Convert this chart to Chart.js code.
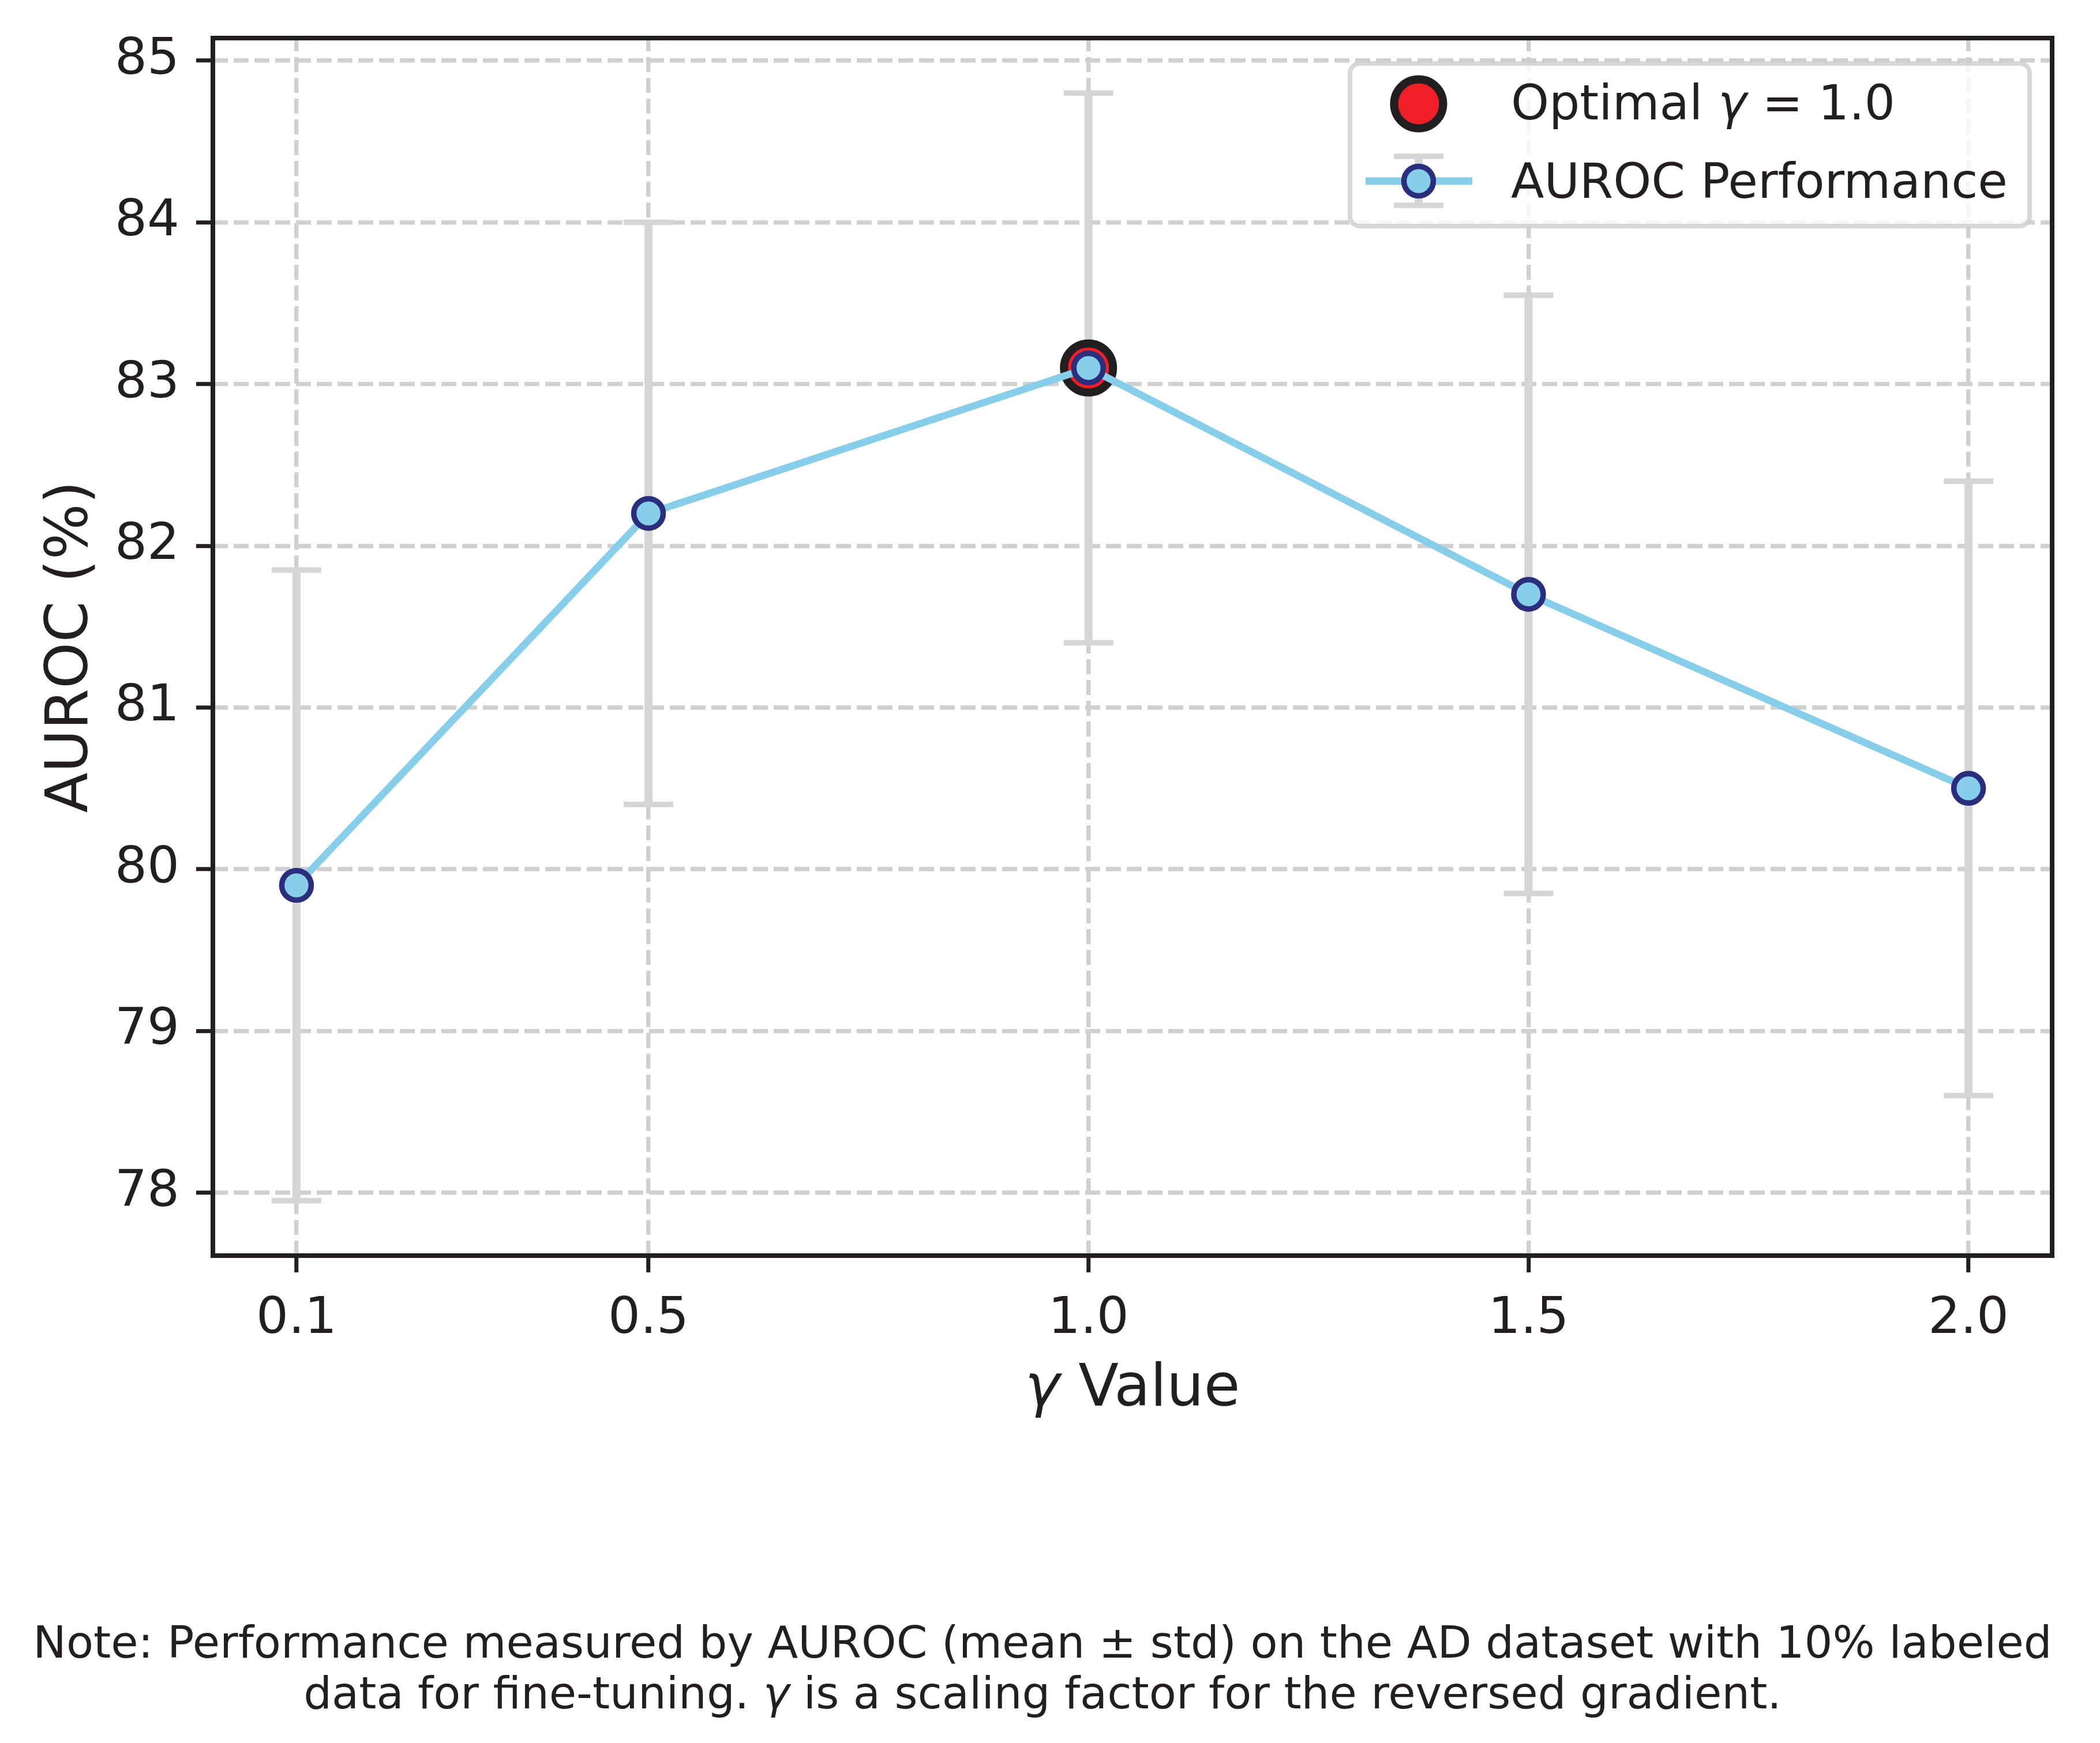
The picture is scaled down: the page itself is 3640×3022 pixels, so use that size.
<!DOCTYPE html>
<html>
<head>
<meta charset="utf-8">
<script src="https://cdn.jsdelivr.net/npm/chart.js@4.4.1/dist/chart.umd.min.js"></script>
<style>
  html, body { margin: 0; padding: 0; background: #fff; }
  #chart { display: block; }
</style>
</head>
<body>
<canvas id="chart" width="3640" height="3022"></canvas>
<script>
// values
const gammaValues = [0.1, 0.5, 1.0, 1.5, 2.0];
const aurocMean = [79.9, 82.2, 83.1, 81.7, 80.5];
const aurocStd = [1.95, 1.8, 1.7, 1.85, 1.9];
const optimalGamma = [1.0];
const optimalAuroc = [83.1];
const yTickValues = [78, 79, 80, 81, 82, 83, 84, 85];

// text pieces: [text, italic]
const legendOptimal = [["Optimal ", false], ["\u03b3", true], [" = 1.0", false]];
const legendAuroc = [["AUROC Performance", false]];
const xTitle = [["\u03b3", true], [" Value", false]];
const yTitle = "AUROC (%)";
const noteLine1 = [["Note: Performance measured by AUROC (mean \u00b1 std) on the AD dataset with 10% labeled", false]];
const noteLine2 = [["data for fine-tuning. ", false], ["\u03b3", true], [" is a scaling factor for the reversed gradient.", false]];

const INK = "#231f20";
const SKY = "#87ceeb";
const NAVY = "#2b2e7c";
const RED = "#ee1f26";
const ERR = "#d4d5d7";
const GRID = "#cfd0d2";
const FAMILY = "'DejaVu Sans', sans-serif";

function font(size, italic) {
  return (italic ? "oblique " : "") + size + "px " + FAMILY;
}

function richWidth(ctx, parts, size) {
  let w = 0;
  parts.forEach(([t, it]) => {
    ctx.font = font(size, it);
    w += ctx.measureText(t).width;
  });
  return w;
}

function drawRich(ctx, parts, x, y, size, align) {
  const w = richWidth(ctx, parts, size);
  let cx = align === "center" ? x - w / 2 : x;
  ctx.textAlign = "left";
  ctx.textBaseline = "alphabetic";
  parts.forEach(([t, it]) => {
    ctx.font = font(size, it);
    ctx.fillText(t, cx, y);
    cx += ctx.measureText(t).width;
  });
}

function marker(ctx, x, y, r, fill, edge, lw) {
  ctx.beginPath();
  ctx.arc(x, y, r, 0, Math.PI * 2);
  ctx.fillStyle = fill;
  ctx.fill();
  ctx.lineWidth = lw;
  ctx.strokeStyle = edge;
  ctx.stroke();
}

function errorBar(ctx, x, top, bot) {
  ctx.strokeStyle = ERR;
  ctx.lineWidth = 14;
  ctx.beginPath();
  ctx.moveTo(x, top);
  ctx.lineTo(x, bot);
  ctx.stroke();
  ctx.lineWidth = 9.5;
  ctx.beginPath();
  ctx.moveTo(x - 43, top);
  ctx.lineTo(x + 43, top);
  ctx.moveTo(x - 43, bot);
  ctx.lineTo(x + 43, bot);
  ctx.stroke();
}

const errorBars = {
  id: "errorBars",
  beforeDatasetsDraw(chart) {
    const { ctx, scales: { x, y } } = chart;
    ctx.save();
    gammaValues.forEach((g, i) => {
      errorBar(ctx, x.getPixelForValue(g),
        y.getPixelForValue(aurocMean[i] + aurocStd[i]),
        y.getPixelForValue(aurocMean[i] - aurocStd[i]));
    });
    ctx.restore();
  }
};

const decorations = {
  id: "decorations",
  afterDraw(chart) {
    const { ctx, chartArea: a } = chart;
    ctx.save();

    // axes frame
    ctx.strokeStyle = INK;
    ctx.lineWidth = 8;
    ctx.strokeRect(a.left, a.top, a.right - a.left, a.bottom - a.top);

    // legend
    const fs = 84;
    const textW = Math.max(richWidth(ctx, legendOptimal, fs), richWidth(ctx, legendAuroc, fs));
    const R = 3518, T = 110, B = 392;
    const L = R - 38 - textW - 279;
    ctx.beginPath();
    ctx.roundRect(L, T, R - L, B - T, 17);
    ctx.fillStyle = "rgba(255,255,255,0.8)";
    ctx.fill();
    ctx.lineWidth = 8;
    ctx.strokeStyle = "rgba(204,205,208,0.8)";
    ctx.stroke();

    const hx = L + 119;
    marker(ctx, hx, 180, 42.5, RED, INK, 14);
    errorBar(ctx, hx, 271, 356);
    ctx.strokeStyle = SKY;
    ctx.lineWidth = 13;
    ctx.beginPath();
    ctx.moveTo(L + 27, 314);
    ctx.lineTo(L + 212, 314);
    ctx.stroke();
    marker(ctx, hx, 314, 25.5, SKY, NAVY, 9.5);

    ctx.fillStyle = INK;
    drawRich(ctx, legendOptimal, L + 279, 207, fs, "left");
    drawRich(ctx, legendAuroc, L + 279, 343, fs, "left");

    // axis titles
    drawRich(ctx, xTitle, (a.left + a.right) / 2, 2437, 102, "center");
    ctx.save();
    ctx.translate(151, (a.top + a.bottom) / 2);
    ctx.rotate(-Math.PI / 2);
    ctx.font = font(102, false);
    ctx.textAlign = "center";
    ctx.textBaseline = "alphabetic";
    ctx.fillText(yTitle, 0, 0);
    ctx.restore();

    // footnote
    drawRich(ctx, noteLine1, 1807, 2874, 77, "center");
    drawRich(ctx, noteLine2, 1807, 2962, 77, "center");
    ctx.restore();
  }
};

function axisStyle(dashOffset) {
  return {
    grid: {
      color: GRID,
      lineWidth: 7.5,
      tickLength: 29,
      tickColor: INK,
      tickWidth: 7
    },
    border: { display: false, dash: [26, 10], dashOffset: dashOffset },
    ticks: {
      color: INK,
      font: { family: FAMILY, size: 88 },
      padding: 29,
      autoSkip: false,
      maxRotation: 0
    }
  };
}

const xStyle = axisStyle(3);
const yStyle = axisStyle(0);

new Chart(document.getElementById("chart"), {
  type: "line",
  data: {
    datasets: [
      {
        label: "AUROC Performance",
        data: gammaValues.map((g, i) => ({ x: g, y: aurocMean[i] })),
        borderColor: SKY,
        borderWidth: 12.5,
        pointRadius: 25.5,
        pointBorderWidth: 9.5,
        pointBackgroundColor: SKY,
        pointBorderColor: NAVY,
        tension: 0,
        order: 0
      },
      {
        label: "Optimal",
        data: optimalGamma.map((g, i) => ({ x: g, y: optimalAuroc[i] })),
        showLine: false,
        pointRadius: 42.5,
        pointBorderWidth: 14,
        pointBackgroundColor: RED,
        pointBorderColor: INK,
        order: 1
      }
    ]
  },
  options: {
    responsive: false,
    devicePixelRatio: 1,
    animation: false,
    layout: { padding: { left: 0, top: 66, right: 83, bottom: 0 } },
    plugins: { legend: { display: false }, tooltip: { enabled: false } },
    scales: {
      x: {
        ...xStyle,
        type: "linear",
        min: 0.005,
        max: 2.095,
        afterBuildTicks: axis => { axis.ticks = gammaValues.map(v => ({ value: v })); },
        afterFit: scale => {
          scale.height = 3022 - 2177;
          scale.paddingLeft = 0;
          scale.paddingRight = 0;
        },
        ticks: { ...xStyle.ticks, callback: v => v.toFixed(1) }
      },
      y: {
        ...yStyle,
        type: "linear",
        min: 77.61,
        max: 85.14,
        afterBuildTicks: axis => { axis.ticks = yTickValues.map(v => ({ value: v })); },
        afterFit: scale => {
          scale.width = 369;
          scale.paddingTop = 0;
          scale.paddingBottom = 0;
        },
        ticks: { ...yStyle.ticks, callback: v => String(v) }
      }
    }
  },
  plugins: [errorBars, decorations]
});
</script>
</body>
</html>
